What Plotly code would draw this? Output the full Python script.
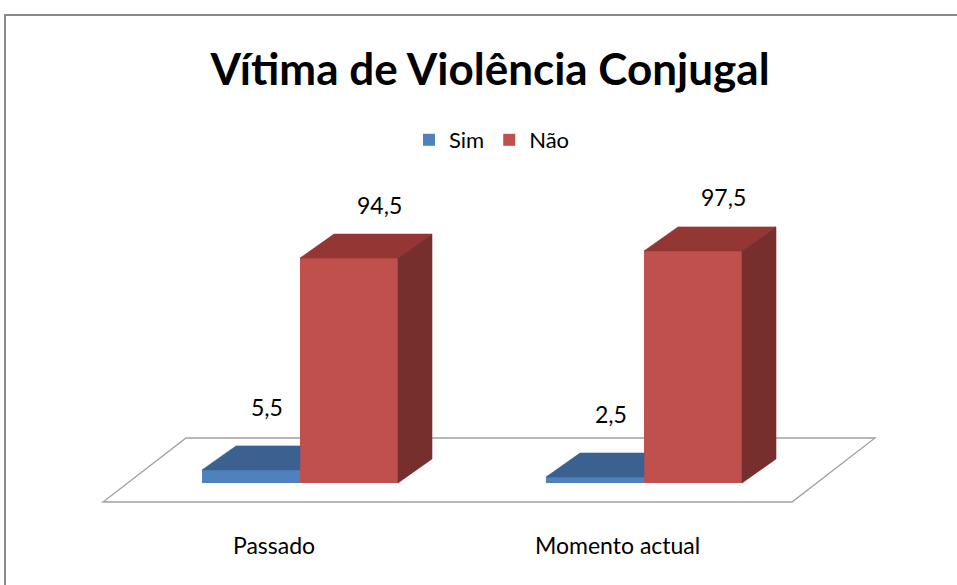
import plotly.graph_objects as go

# ---------------- data ----------------
categories = ["Passado", "Momento actual"]
series_names = ["Sim", "Não"]
sim_values = [5.5, 2.5]
nao_values = [94.5, 97.5]
title_text = "Vítima de Violência Conjugal"

# ---------------- layout constants (pixel anchoring of the pseudo-3D scene) ----------------
W, H = 957, 585
BASE_PX = 483.0          # pixel row of value 0 (front bottom of bars)
PX_PER_UNIT = 2.38       # vertical pixels per value unit
GROUP0_PX = 300.0        # pixel column of first category centre
GROUP_STEP_PX = 344.0    # pixels between categories

def xc(px):
    return (px - GROUP0_PX) / GROUP_STEP_PX

def yv(py):
    return (BASE_PX - py) / PX_PER_UNIT

BW = 98.0 / GROUP_STEP_PX      # bar width in category units
DX = 34.0 / GROUP_STEP_PX      # depth offset x
DY = 24.0 / PX_PER_UNIT        # depth offset y (value units)

FONT = "Lato, 'Open Sans', sans-serif"
BLUE_FRONT, BLUE_TOP = "#4F81BD", "#3B6190"
RED_FRONT, RED_TOP, RED_SIDE = "#C0504D", "#943634", "#772F2D"

fig = go.Figure()

xs = list(range(len(categories)))

# front faces drawn as bars
fig.add_trace(go.Bar(x=xs, y=sim_values, width=BW, offset=-BW, name=series_names[0],
                     marker=dict(color=BLUE_FRONT, line=dict(width=0))))
fig.add_trace(go.Bar(x=xs, y=nao_values, width=BW, offset=0, name=series_names[1],
                     marker=dict(color=RED_FRONT, line=dict(width=0))))

def face(xpts, ypts, color):
    fig.add_trace(go.Scatter(x=xpts + [xpts[0]], y=ypts + [ypts[0]], mode="lines",
                             fill="toself", fillcolor=color,
                             line=dict(width=0.6, color=color),
                             showlegend=False, hoverinfo="skip"))

for i, (s, n) in enumerate(zip(sim_values, nao_values)):
    # blue top face (part visible left of the red bar)
    xl, xr = i - BW, i
    face([xl, xr, xr, xl + DX], [s, s, s + DY, s + DY], BLUE_TOP)
    # red top face and side face
    xl, xr = i, i + BW
    face([xl, xr, xr + DX, xl + DX], [n, n, n + DY, n + DY], RED_TOP)
    face([xr, xr + DX, xr + DX, xr], [0, DY, n + DY, n], RED_SIDE)

# data labels
def fmt(v):
    return ("%g" % v).replace(".", ",")

annotations = []
for i, (s, n) in enumerate(zip(sim_values, nao_values)):
    annotations.append(dict(x=i - 0.096, y=s + 26.5, text=fmt(s), showarrow=False,
                            font=dict(family=FONT, size=23, color="#000000")))
    annotations.append(dict(x=i + BW / 2 + DX - 0.01, y=n + 22.5, text=fmt(n), showarrow=False,
                            font=dict(family=FONT, size=23, color="#000000")))
    annotations.append(dict(x=i - 0.0756, y=yv(545), text=categories[i], showarrow=False,
                            font=dict(family=FONT, size=23, color="#000000")))

# floor parallelogram
floor_front_y, floor_back_y = yv(502), yv(438)
floor_path = "M {a},{fy} L {b},{fy} L {c},{by} L {d},{by} Z".format(
    a=xc(103), b=xc(792), c=xc(875), d=xc(186), fy=floor_front_y, by=floor_back_y)

shapes = [
    dict(type="path", path=floor_path, xref="x", yref="y", layer="below",
         line=dict(color="#A0A0A0", width=1.3), fillcolor="white"),
    dict(type="rect", xref="paper", yref="paper", x0=5 / W, x1=1.05, y0=-0.05, y1=1 - 15 / H,
         line=dict(color="#8A8A8A", width=2), fillcolor="rgba(0,0,0,0)", layer="below"),
]

fig.update_layout(
    width=W, height=H,
    margin=dict(l=0, r=0, t=0, b=0),
    paper_bgcolor="white", plot_bgcolor="white",
    barmode="overlay",
    title=dict(text="<b>" + title_text + "</b>", x=490 / W, xanchor="center",
               y=1 - 70 / H, yanchor="middle",
               font=dict(family=FONT, size=44, color="#000000")),
    legend=dict(orientation="h", x=492 / W, xanchor="center", y=1 - 140 / H, yanchor="middle",
                font=dict(family=FONT, size=22, color="#000000"), bgcolor="rgba(0,0,0,0)"),
    xaxis=dict(range=[xc(0), xc(W)], visible=False, fixedrange=True),
    yaxis=dict(range=[yv(H), yv(0)], visible=False, fixedrange=True),
    annotations=annotations,
    shapes=shapes,
)

fig.write_html("out.html", config={"displayModeBar": False, "staticPlot": True},
               post_script="document.body.style.margin='0px';document.body.style.overflow='hidden';")
